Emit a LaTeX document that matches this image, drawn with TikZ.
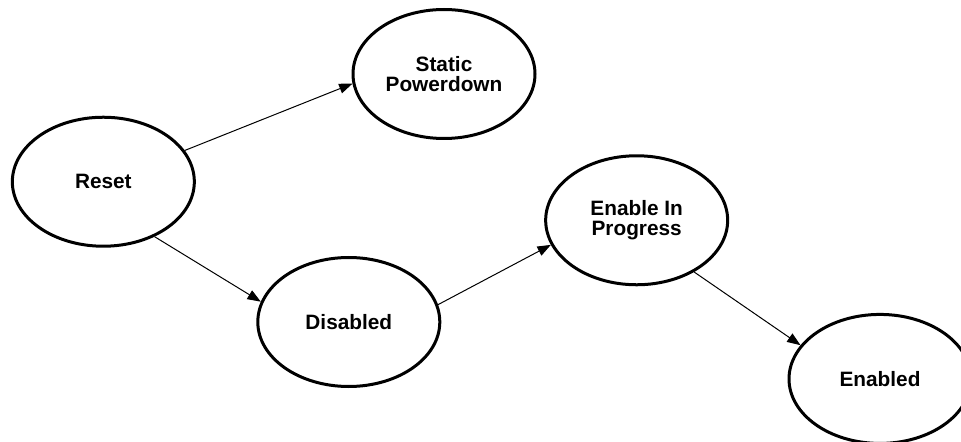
\documentclass[tikz,border=0pt]{standalone}
\usepackage{fontspec}
\setmainfont{Liberation Sans}
\usetikzlibrary{arrows.meta}
\usetikzlibrary{positioning,shapes.geometric}

\begin{document}
\begin{tikzpicture}[node distance=2cm,on grid,auto,
    >={Triangle[length=10pt,width=7.5pt]},
    mode/.style={ellipse,draw,line width=2.25pt,inner sep=0pt,
      minimum width=136.5pt,minimum height=96.75pt,align=center,
      font=\bfseries\fontsize{15.6}{15}\selectfont}]
    \useasboundingbox (0,0) rectangle (720.75pt,-331.5pt);
    \clip (0,0) rectangle (720.75pt,-331.5pt);
    \node[mode] (reset) at (77.5pt,-136.3pt) {Reset};
    \node[mode] [above right=80.8pt and 255.5pt of reset] (static) {Static\\Powerdown};
    \node[mode] [below right=105.2pt and 184.1pt of reset] (disabled) {Disabled};
    \node[mode] [above right=76.3pt and 215.9pt of disabled] (inprog) {Enable In\\Progress};
    \node[mode] [below right=119pt and 182.5pt of inprog] (enabled) {Enabled};
    \path[->,line width=0.75pt]
    (reset.21) edge (static.186)
    (reset.-47) edge (disabled.167)
    (disabled.11) edge (inprog.196)
    (inprog.-42) edge (enabled.157);
\end{tikzpicture}
\end{document}
